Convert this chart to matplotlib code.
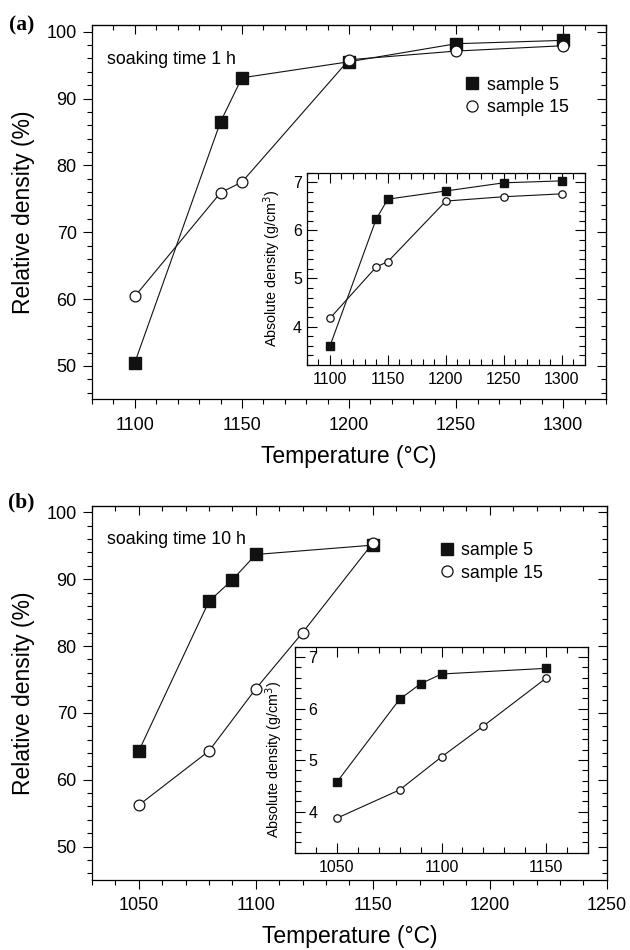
import matplotlib
matplotlib.use('Agg')
import matplotlib.pyplot as plt
from matplotlib.ticker import MultipleLocator
from matplotlib.lines import Line2D

plt.rcParams['font.family'] = ['Liberation Sans', 'DejaVu Sans']

# (a) soaking time 1 h
temp_a = [1100, 1140, 1150, 1200, 1250, 1300]
rel_a_s5 = [50.5, 86.5, 93.1, 95.5, 98.2, 98.7]
rel_a_s15 = [60.4, 75.9, 77.5, 95.8, 97.1, 97.9]
abs_a_s5 = [3.59, 6.24, 6.65, 6.82, 6.99, 7.03]
abs_a_s15 = [4.17, 5.24, 5.35, 6.61, 6.70, 6.76]

# (b) soaking time 10 h
temp_b_s5 = [1050, 1080, 1090, 1100, 1150]
temp_b_s15 = [1050, 1080, 1100, 1120, 1150]
rel_b_s5 = [64.3, 86.7, 89.9, 93.7, 95.1]
rel_b_s15 = [56.2, 64.3, 73.6, 82.0, 95.4]
abs_b_s5 = [4.57, 6.18, 6.48, 6.67, 6.78]
abs_b_s15 = [3.87, 4.42, 5.06, 5.66, 6.59]

W, H = 630, 950
fig = plt.figure(figsize=(6.3, 9.5), dpi=100)


def px_axes(l, t, r, b):
    return fig.add_axes([l / W, 1 - b / H, (r - l) / W, (b - t) / H])


def style_main(ax, xlim, soak, leg_xy):
    ax.set_xlim(*xlim)
    ax.set_ylim(45, 101)
    ax.xaxis.set_major_locator(MultipleLocator(50))
    ax.xaxis.set_minor_locator(MultipleLocator(10))
    ax.yaxis.set_major_locator(MultipleLocator(10))
    ax.yaxis.set_minor_locator(MultipleLocator(2))
    ax.tick_params(which='both', direction='out', width=0.8, labelsize=13)
    ax.tick_params(which='major', length=6.5)
    ax.tick_params(which='minor', length=3.5)
    ax.tick_params(axis='x', which='major', pad=6)
    ax.tick_params(axis='y', which='major', pad=4.5)
    for s in ax.spines.values():
        s.set_linewidth(0.9)
    # top and right ticks point inwards
    top = ax.secondary_xaxis('top')
    top.xaxis.set_major_locator(MultipleLocator(50))
    top.xaxis.set_minor_locator(MultipleLocator(10))
    top.tick_params(which='both', direction='in', width=0.8, labeltop=False)
    top.tick_params(which='major', length=6.5)
    top.tick_params(which='minor', length=3.5)
    right = ax.secondary_yaxis('right')
    right.yaxis.set_major_locator(MultipleLocator(10))
    right.yaxis.set_minor_locator(MultipleLocator(2))
    right.tick_params(which='both', direction='in', width=0.8, labelright=False)
    right.tick_params(which='major', length=6.5)
    right.tick_params(which='minor', length=3.5)
    ax.set_xlabel('Temperature (°C)', fontsize=16.5)
    ax.set_ylabel('Relative density (%)', fontsize=16.5)
    ax.xaxis.set_label_coords(0.5, -0.121)
    ax.yaxis.set_label_coords(-0.111, 0.5)
    ax.text(0.029, 0.909, soak, transform=ax.transAxes, fontsize=12.8,
            va='center', ha='left')
    handles = [Line2D([], [], ls='none', marker='s', ms=8, mfc='#111111', mec='#111111'),
               Line2D([], [], ls='none', marker='o', ms=8, mfc='white', mec='#111111', mew=0.9)]
    ax.legend(handles, ['sample 5', 'sample 15'], loc='upper left', bbox_to_anchor=leg_xy,
              frameon=False, fontsize=12.8, handlelength=1.0, handletextpad=0.3,
              borderpad=0, borderaxespad=0, labelspacing=0.3)


def style_inset(ax, xlim, inside_labels=False):
    ax.set_xlim(*xlim)
    ax.set_ylim(3.2, 7.2)
    ax.xaxis.set_major_locator(MultipleLocator(50))
    ax.xaxis.set_minor_locator(MultipleLocator(10))
    ax.yaxis.set_major_locator(MultipleLocator(1))
    ax.yaxis.set_minor_locator(MultipleLocator(0.2))
    ax.tick_params(which='both', direction='in', top=True, right=True, width=0.8, labelsize=11.5)
    ax.tick_params(which='major', length=7)
    ax.tick_params(which='minor', length=4)
    ax.tick_params(axis='x', which='major', pad=5)
    if inside_labels:
        ax.tick_params(axis='y', which='major', pad=-16)
    for s in ax.spines.values():
        s.set_linewidth(0.9)
    ax.set_ylabel('Absolute density (g/cm$^3$)', fontsize=10.3)


def plot_pair(ax, x5, y5, x15, y15, ms):
    ax.plot(x5, y5, color='#111111', lw=0.8, marker='s', ms=ms, mfc='#111111', mec='#111111',
            zorder=3)
    ax.plot(x15, y15, color='#111111', lw=0.8, marker='o', ms=ms * 0.95, mfc='white',
            mec='#111111', mew=0.9, zorder=3)


# panel (a)
ax_a = px_axes(92, 25, 606, 399.3)
plot_pair(ax_a, temp_a, rel_a_s5, temp_a, rel_a_s15, 8.2)
style_main(ax_a, (1080, 1320), 'soaking time 1 h', (0.7226, 0.862))

ins_a = px_axes(306.7, 172.7, 585, 365)
plot_pair(ins_a, temp_a, abs_a_s5, temp_a, abs_a_s15, 5.6)
style_inset(ins_a, (1080, 1320))
ins_a.yaxis.set_label_coords(-0.085, 0.5)

# panel (b)
ax_b = px_axes(92, 505.7, 606.7, 880)
plot_pair(ax_b, temp_b_s5, rel_b_s5, temp_b_s15, rel_b_s15, 8.2)
style_main(ax_b, (1030, 1250), 'soaking time 10 h', (0.672, 0.902))

ins_b = px_axes(295, 646.7, 588, 852.7)
plot_pair(ins_b, temp_b_s5, abs_b_s5, temp_b_s15, abs_b_s15, 5.6)
style_inset(ins_b, (1030, 1170), inside_labels=True)
ins_b.yaxis.set_label_coords(-0.034, 0.45)

fig.text(9 / W, 1 - 25 / H, '(a)', fontsize=15.5, fontweight='bold',
         family='Liberation Serif', va='center', ha='left')
fig.text(8 / W, 1 - 502 / H, '(b)', fontsize=15.5, fontweight='bold',
         family='Liberation Serif', va='center', ha='left')

fig.savefig('out.png', dpi=100)
